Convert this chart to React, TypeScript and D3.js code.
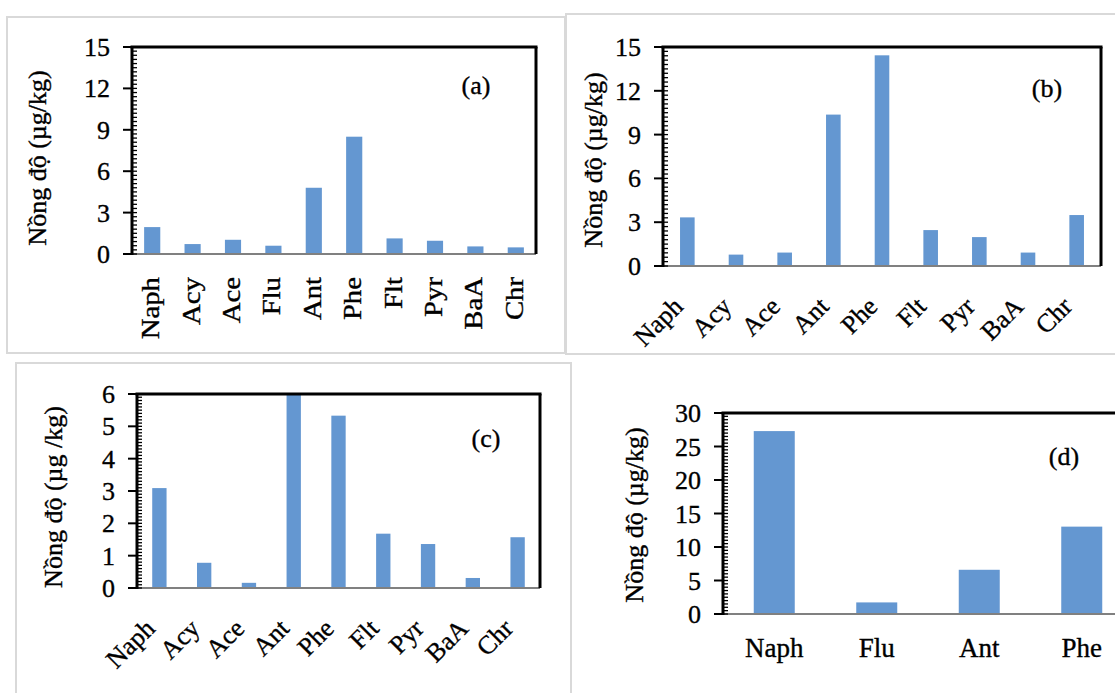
import React from 'react';
import * as d3 from 'd3';

// ---------- data ----------
const catsA = ['Naph', 'Acy', 'Ace', 'Flu', 'Ant', 'Phe', 'Flt', 'Pyr', 'BaA', 'Chr'];
const valuesA = [1.95, 0.72, 1.03, 0.6, 4.8, 8.5, 1.13, 0.96, 0.55, 0.48];
const ticksA = [0, 3, 6, 9, 12, 15];

const catsB = ['Naph', 'Acy', 'Ace', 'Ant', 'Phe', 'Flt', 'Pyr', 'BaA', 'Chr'];
const valuesB = [3.33, 0.78, 0.92, 10.37, 14.43, 2.46, 1.98, 0.92, 3.49];
const ticksB = [0, 3, 6, 9, 12, 15];

const catsC = ['Naph', 'Acy', 'Ace', 'Ant', 'Phe', 'Flt', 'Pyr', 'BaA', 'Chr'];
const valuesC = [3.09, 0.78, 0.16, 5.98, 5.33, 1.68, 1.36, 0.31, 1.57];
const ticksC = [0, 1, 2, 3, 4, 5, 6];

const catsD = ['Naph', 'Flu', 'Ant', 'Phe'];
const valuesD = [27.3, 1.73, 6.6, 13.04];
const ticksD = [0, 5, 10, 15, 20, 25, 30];

// ---------- layout ----------
const FONT = 'Liberation Serif';
const BAR = '#6497D1';
const TXT = { fill: '#000', stroke: '#000', strokeWidth: 0.35 };

type Panel = {
  cats: string[];
  values: number[];
  ticks: number[];
  minor: number;
  left: number; right: number; top: number; bottom: number;
  pad: number;
  mode: 'v' | 'd' | 'h';
  tag: string; tagX: number; tagY: number;
  title: string; titleX: number; titleY: number;
};

const panels: Panel[] = [
  {
    cats: catsA, values: valuesA, ticks: ticksA, minor: 0.3,
    left: 132, right: 536, top: 47, bottom: 254, pad: 0.6, mode: 'v',
    tag: '(a)', tagX: 476, tagY: 85,
    title: 'Nồng độ (µg/kg)', titleX: 38, titleY: 158,
  },
  {
    cats: catsB, values: valuesB, ticks: ticksB, minor: 0.3,
    left: 663, right: 1101, top: 47, bottom: 266, pad: 0.7, mode: 'd',
    tag: '(b)', tagX: 1047, tagY: 88,
    title: 'Nồng độ (µg/kg)', titleX: 594, titleY: 160,
  },
  {
    cats: catsC, values: valuesC, ticks: ticksC, minor: 0.1,
    left: 137, right: 540, top: 394, bottom: 588, pad: 0.68, mode: 'd',
    tag: '(c)', tagX: 486, tagY: 438,
    title: 'Nồng độ (µg /kg)', titleX: 54, titleY: 497,
  },
  {
    cats: catsD, values: valuesD, ticks: ticksD, minor: 0.5,
    left: 723, right: 1133, top: 413, bottom: 614, pad: 0.6, mode: 'h',
    tag: '(d)', tagX: 1064, tagY: 456,
    title: 'Nồng độ (µg/kg)', titleX: 635, titleY: 515,
  },
];

function ChartPanel({ p }: { p: Panel }) {
  const x = d3.scaleBand<string>().domain(p.cats).range([p.left, p.right])
    .paddingInner(p.pad).paddingOuter(p.pad / 2);
  const yMax = p.ticks[p.ticks.length - 1];
  const y = d3.scaleLinear().domain([0, yMax]).range([p.bottom, p.top]);
  const minorTicks = d3.range(0, yMax + 1e-9, p.minor);
  const fs = 26;
  return (
    <g>
      {p.cats.map((c, i) => (
        <rect key={c} x={x(c)!} y={y(p.values[i])} width={x.bandwidth()}
          height={p.bottom - y(p.values[i])} fill={BAR} />
      ))}
      {/* frame */}
      <line x1={p.left} x2={p.right} y1={p.bottom} y2={p.bottom} stroke="#808080" strokeWidth={2} />
      <line x1={p.left - 1.5} x2={p.right + 1.5} y1={p.top} y2={p.top} stroke="#000" strokeWidth={3} />
      <line x1={p.right} x2={p.right} y1={p.top} y2={p.bottom} stroke="#000" strokeWidth={3} />
      <line x1={p.left} x2={p.left} y1={p.top} y2={p.bottom + 1} stroke="#000" strokeWidth={3} />
      {minorTicks.map((v) => (
        <line key={'m' + v} x1={p.left} x2={p.left + 5} y1={y(v)} y2={y(v)} stroke="#000" strokeWidth={1.3} />
      ))}
      {p.ticks.map((v) => (
        <g key={'t' + v}>
          <line x1={p.left - 9} x2={p.left} y1={y(v)} y2={y(v)} stroke="#000" strokeWidth={2} />
          <text x={p.left - 22} y={y(v) + 9} textAnchor="end"
            fontSize={fs} fontFamily={FONT} {...TXT}>{v}</text>
        </g>
      ))}
      {p.cats.map((c) => {
        const xc = x(c)! + x.bandwidth() / 2;
        if (p.mode === 'v') {
          return (
            <text key={'c' + c} transform={`translate(${xc + 7},${p.bottom + 23}) rotate(-90) scale(1.15,1)`}
              textAnchor="end" fontSize={25} fontFamily={FONT} {...TXT}>{c}</text>
          );
        }
        if (p.mode === 'd') {
          return (
            <text key={'c' + c} transform={`translate(${xc - 3},${p.bottom + 42}) rotate(-45)`}
              textAnchor="end" fontSize={26} fontFamily={FONT} {...TXT}>{c}</text>
          );
        }
        return (
          <text key={'c' + c} x={xc} y={657} textAnchor="middle" fontSize={27} fontFamily={FONT} {...TXT}>{c}</text>
        );
      })}
      <text x={p.tagX} y={p.tagY + 9} textAnchor="middle"
        fontSize={26} fontFamily={FONT} {...TXT}>{p.tag}</text>
      <text transform={`translate(${p.titleX + 8},${p.titleY}) rotate(-90)`} textAnchor="middle"
        fontSize={26} fontFamily={FONT} {...TXT}>{p.title}</text>
    </g>
  );
}

export default function App() {
  return (
    <svg width={1115} height={693} viewBox="0 0 1115 693"
      style={{ position: 'absolute', left: 0, top: 0, background: '#fff' }}>
      <rect x={0} y={0} width={1115} height={693} fill="#fff" />
      {/* panel frames */}
      <rect x={7} y={17} width={558} height={336} fill="none" stroke="#d9d9d9" strokeWidth={2} />
      <rect x={566} y={14} width={570} height={340} fill="none" stroke="#d9d9d9" strokeWidth={2} />
      <rect x={16} y={363} width={555} height={400} fill="none" stroke="#d9d9d9" strokeWidth={2} />
      {panels.map((p) => <ChartPanel key={p.tag} p={p} />)}
    </svg>
  );
}
